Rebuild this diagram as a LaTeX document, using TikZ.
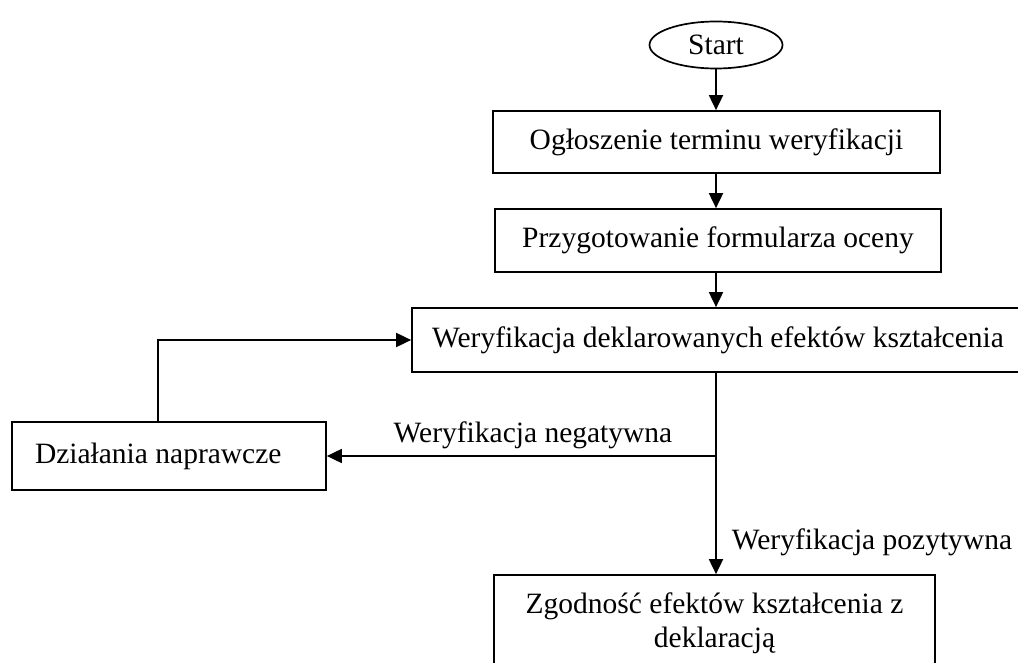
\documentclass[tikz,border=0pt]{standalone}
\usepackage{fontspec}
\setmainfont{Liberation Serif}
\usetikzlibrary{arrows.meta,shapes.geometric}
\begin{document}
\begin{tikzpicture}[x=1pt,y=-1pt,
 box/.style={draw,line width=1.7pt,rectangle,inner sep=0pt,font=\fontsize{29.5}{34}\selectfont},
 lbl/.style={inner sep=0pt,font=\fontsize{29.5}{34}\selectfont},
 arr/.style={line width=1.8pt,-{Triangle[length=15pt,width=14pt]}},
 ln/.style={line width=1.8pt}]
\useasboundingbox (0,0) rectangle (1018,663);
\fill[white] (0,0) rectangle (1018,663);
\node[box,ellipse,minimum width=133pt,minimum height=47pt] (start) at (716,45) {Start};
\node[box,minimum width=447pt,minimum height=62pt] (b1) at (716.5,142) {Ogłoszenie terminu weryfikacji};
\node[box,minimum width=446pt,minimum height=63pt] (b2) at (718,240.5) {Przygotowanie formularza oceny};
\node[box,minimum width=612pt,minimum height=64pt] (b3) at (718,340) {Weryfikacja deklarowanych efektów kształcenia};
\node[box,minimum width=314pt,minimum height=68pt] (dz) at (169,456) {\makebox[268pt][l]{Działania naprawcze}};
\node[box,minimum width=441pt,minimum height=96pt,align=center] (zg) at (714.5,623) {Zgodność efektów kształcenia z\\deklaracją};
\coordinate (split) at (716,456);
\coordinate (fb) at (158,422);
\draw[arr] (start.south) -- (b1.north -| start.south);
\draw[arr] (b1.south -| start.south) -- (b2.north -| start.south);
\draw[arr] (b2.south -| start.south) -- (b3.north -| start.south);
\draw[ln] (b3.south -| start.south) -- (split);
\draw[arr] (split) -- (zg.north -| start.south);
\draw[arr] (split) -- (dz.east);
\draw[arr] (fb) |- (b3.west);
\node[lbl] (neg) at (533,435) {Weryfikacja negatywna};
\node[lbl] (poz) at (872,542) {Weryfikacja pozytywna};
\end{tikzpicture}
\end{document}
